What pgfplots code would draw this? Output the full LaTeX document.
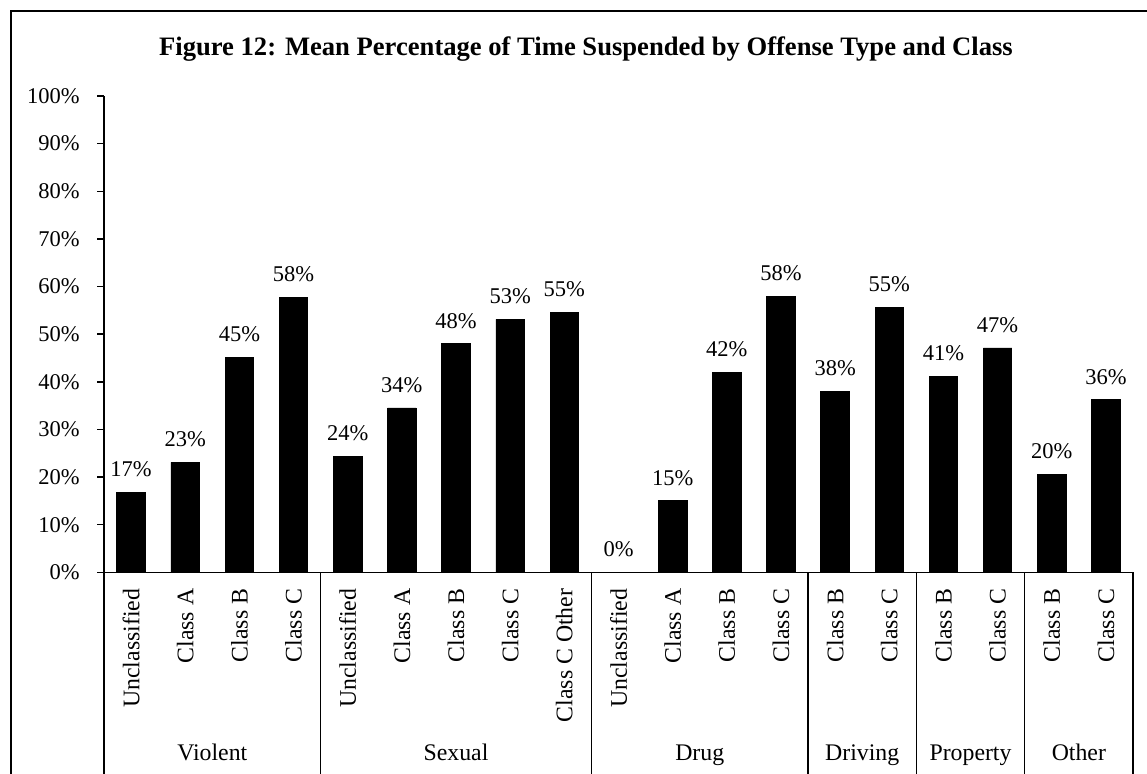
\documentclass[border=0pt]{standalone}
\usepackage{fontspec}
\setmainfont{Liberation Serif}
\usepackage{pgfplots}
\usepackage{pgfplotstable}
\pgfplotsset{compat=1.18}

\pgfplotstableread[col sep=comma]{
x,y,lab
0,16.8,17
1,23.1,23
2,45.2,45
3,57.8,58
4,24.3,24
5,34.5,34
6,48.0,48
7,53.1,53
8,54.6,55
9,0,0
10,15.0,15
11,42.0,42
12,58.0,58
13,38.0,38
14,55.6,55
15,41.2,41
16,47.1,47
17,20.6,20
18,36.2,36
}\data

\newcommand{\lbl}{\fontsize{11.25}{13.5}\selectfont}
\newcommand{\cat}{\fontsize{11.9}{14}\selectfont}

\begin{document}
\begin{tikzpicture}
\path[use as bounding box] (0,0) rectangle (573.5pt,386.5pt);
\clip (0,0) rectangle (573.5pt,386.5pt);
\fill[white] (0,0) rectangle (573.5pt,386.5pt);
\draw[line width=0.8pt] (5.5pt,-20pt) -- (5.5pt,381pt) -- (600pt,381pt);
\node[anchor=base, font=\fontsize{13.3}{16}\selectfont\bfseries] at (293pt,358.5pt)
  {Figure 12: Mean Percentage of Time Suspended by Offense Type and Class};
\begin{axis}[
  at={(52pt,100.35pt)}, anchor=south west,
  scale only axis, width=514.5pt, height=238.15pt,
  xmin=-0.5, xmax=18.5, ymin=0, ymax=100,
  enlargelimits=false, clip=false,
  ybar, bar width=0.526,
  axis x line*=bottom, axis y line*=left,
  axis line style={line width=0.75pt, black},
  tick align=outside,
  ytick={0,10,...,100},
  yticklabel={\pgfmathprintnumber{\tick}\%},
  ytick style={line width=0.75pt, black},
  major tick length=3.5pt,
  yticklabel style={font=\lbl, anchor=east, inner sep=0pt, xshift=-8.5pt},
  /pgf/number format/assume math mode=true,
  xtick={0,...,18},
  xticklabels={Unclassified, Class A, Class B, Class C, Unclassified, Class A, Class B, Class C, Class C Other, Unclassified, Class A, Class B, Class C, Class B, Class C, Class B, Class C, Class B, Class C},
  xtick style={draw=none},
  xticklabel style={font=\cat, rotate=90, anchor=east, inner sep=0pt, xshift=-4.5pt},
  every node near coord/.append style={font=\lbl, anchor=base, inner sep=0pt, yshift=7.8pt},
]
\addplot[fill=black, draw=black, nodes near coords={\pgfplotspointmeta\%}, point meta=explicit symbolic]
  table[x=x, y=y, meta=lab] {\data};
\draw[line width=0.6pt] (axis cs:-0.5,0) -- ++(0pt,-110pt);
\draw[line width=0.6pt] (axis cs:3.5,0) -- ++(0pt,-110pt);
\draw[line width=0.6pt] (axis cs:8.5,0) -- ++(0pt,-110pt);
\draw[line width=0.6pt] (axis cs:12.5,0) -- ++(0pt,-110pt);
\draw[line width=0.6pt] (axis cs:14.5,0) -- ++(0pt,-110pt);
\draw[line width=0.6pt] (axis cs:16.5,0) -- ++(0pt,-110pt);
\draw[line width=0.6pt] (axis cs:18.5,0) -- ++(0pt,-110pt);
\node[font=\cat, anchor=base, yshift=-93.85pt] at (axis cs:1.5,0) {Violent};
\node[font=\cat, anchor=base, yshift=-93.85pt] at (axis cs:6,0) {Sexual};
\node[font=\cat, anchor=base, yshift=-93.85pt] at (axis cs:10.5,0) {Drug};
\node[font=\cat, anchor=base, yshift=-93.85pt] at (axis cs:13.5,0) {Driving};
\node[font=\cat, anchor=base, yshift=-93.85pt] at (axis cs:15.5,0) {Property};
\node[font=\cat, anchor=base, yshift=-93.85pt] at (axis cs:17.5,0) {Other};
\end{axis}
\end{tikzpicture}
\end{document}
